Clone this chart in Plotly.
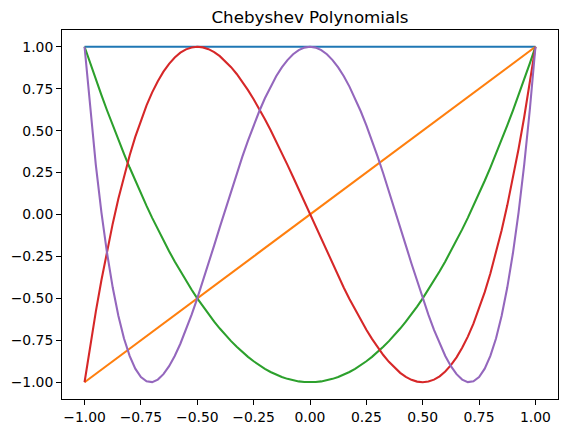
import plotly.graph_objects as go

x = [-1.0, -0.975, -0.95, -0.925, -0.9, -0.875, -0.85, -0.825, -0.8, -0.775,
     -0.75, -0.725, -0.7, -0.675, -0.65, -0.625, -0.6, -0.575, -0.55, -0.525,
     -0.5, -0.475, -0.45, -0.425, -0.4, -0.375, -0.35, -0.325, -0.3, -0.275,
     -0.25, -0.225, -0.2, -0.175, -0.15, -0.125, -0.1, -0.075, -0.05, -0.025,
     0.0,
     0.025, 0.05, 0.075, 0.1, 0.125, 0.15, 0.175, 0.2, 0.225, 0.25,
     0.275, 0.3, 0.325, 0.35, 0.375, 0.4, 0.425, 0.45, 0.475, 0.5,
     0.525, 0.55, 0.575, 0.6, 0.625, 0.65, 0.675, 0.7, 0.725, 0.75,
     0.775, 0.8, 0.825, 0.85, 0.875, 0.9, 0.925, 0.95, 0.975, 1.0]

T0 = [1.0] * 81

T1 = [-1.0, -0.975, -0.95, -0.925, -0.9, -0.875, -0.85, -0.825, -0.8, -0.775,
      -0.75, -0.725, -0.7, -0.675, -0.65, -0.625, -0.6, -0.575, -0.55, -0.525,
      -0.5, -0.475, -0.45, -0.425, -0.4, -0.375, -0.35, -0.325, -0.3, -0.275,
      -0.25, -0.225, -0.2, -0.175, -0.15, -0.125, -0.1, -0.075, -0.05, -0.025,
      0.0,
      0.025, 0.05, 0.075, 0.1, 0.125, 0.15, 0.175, 0.2, 0.225, 0.25,
      0.275, 0.3, 0.325, 0.35, 0.375, 0.4, 0.425, 0.45, 0.475, 0.5,
      0.525, 0.55, 0.575, 0.6, 0.625, 0.65, 0.675, 0.7, 0.725, 0.75,
      0.775, 0.8, 0.825, 0.85, 0.875, 0.9, 0.925, 0.95, 0.975, 1.0]

T2 = [1.0, 0.90125, 0.805, 0.71125, 0.62, 0.53125, 0.445, 0.36125, 0.28, 0.20125,
      0.125, 0.05125, -0.02, -0.08875, -0.155, -0.21875, -0.28, -0.33875, -0.395, -0.44875,
      -0.5, -0.54875, -0.595, -0.63875, -0.68, -0.71875, -0.755, -0.78875, -0.82, -0.84875,
      -0.875, -0.89875, -0.92, -0.93875, -0.955, -0.96875, -0.98, -0.98875, -0.995, -0.99875,
      -1.0,
      -0.99875, -0.995, -0.98875, -0.98, -0.96875, -0.955, -0.93875, -0.92, -0.89875, -0.875,
      -0.84875, -0.82, -0.78875, -0.755, -0.71875, -0.68, -0.63875, -0.595, -0.54875, -0.5,
      -0.44875, -0.395, -0.33875, -0.28, -0.21875, -0.155, -0.08875, -0.02, 0.05125, 0.125,
      0.20125, 0.28, 0.36125, 0.445, 0.53125, 0.62, 0.71125, 0.805, 0.90125, 1.0]

T3 = [-1.0, -0.78244, -0.5795, -0.39081, -0.216, -0.05469, 0.0935, 0.22894, 0.352, 0.46306,
      0.5625, 0.65069, 0.728, 0.79481, 0.8515, 0.89844, 0.936, 0.96456, 0.9845, 0.99619,
      1.0, 0.99631, 0.9855, 0.96794, 0.944, 0.91406, 0.8785, 0.83769, 0.792, 0.74181,
      0.6875, 0.62944, 0.568, 0.50356, 0.4365, 0.36719, 0.296, 0.22331, 0.1495, 0.07494,
      0.0,
      -0.07494, -0.1495, -0.22331, -0.296, -0.36719, -0.4365, -0.50356, -0.568, -0.62944, -0.6875,
      -0.74181, -0.792, -0.83769, -0.8785, -0.91406, -0.944, -0.96794, -0.9855, -0.99631, -1.0,
      -0.99619, -0.9845, -0.96456, -0.936, -0.89844, -0.8515, -0.79481, -0.728, -0.65069, -0.5625,
      -0.46306, -0.352, -0.22894, -0.0935, 0.05469, 0.216, 0.39081, 0.5795, 0.78244, 1.0]

T4 = [1.0, 0.6245, 0.29605, 0.01175, -0.2312, -0.43555, -0.60395, -0.739, -0.8432, -0.919,
      -0.96875, -0.99475, -0.9992, -0.98425, -0.95195, -0.9043, -0.8432, -0.7705, -0.68795, -0.59725,
      -0.5, -0.39775, -0.29195, -0.184, -0.0752, 0.0332, 0.14005, 0.24425, 0.3448, 0.44075,
      0.53125, 0.6155, 0.6928, 0.7625, 0.82405, 0.87695, 0.9208, 0.95525, 0.98005, 0.995,
      1.0,
      0.995, 0.98005, 0.95525, 0.9208, 0.87695, 0.82405, 0.7625, 0.6928, 0.6155, 0.53125,
      0.44075, 0.3448, 0.24425, 0.14005, 0.0332, -0.0752, -0.184, -0.29195, -0.39775, -0.5,
      -0.59725, -0.68795, -0.7705, -0.8432, -0.9043, -0.95195, -0.98425, -0.9992, -0.99475, -0.96875,
      -0.919, -0.8432, -0.739, -0.60395, -0.43555, -0.2312, 0.01175, 0.29605, 0.6245, 1.0]

series = [T0, T1, T2, T3, T4]
colors = ["#1f77b4", "#ff7f0e", "#2ca02c", "#d62728", "#9467bd"]
names = ["T0", "T1", "T2", "T3", "T4"]

tickvals = [-1.0, -0.75, -0.5, -0.25, 0.0, 0.25, 0.5, 0.75, 1.0]
ticklabels = ["\u22121.00", "\u22120.75", "\u22120.50", "\u22120.25", "0.00",
              "0.25", "0.50", "0.75", "1.00"]

fig = go.Figure()
for ys, c, n in zip(series, colors, names):
    fig.add_trace(go.Scatter(x=x, y=ys, mode="lines", name=n,
                             line=dict(color=c, width=2.08)))

axis_common = dict(
    showgrid=False, zeroline=False, showline=True, mirror=True,
    linecolor="black", linewidth=1.1, ticks="outside", ticklen=4.9,
    tickwidth=1.1, tickcolor="black", automargin=False,
    tickfont=dict(family="DejaVu Sans", size=13.9, color="black"),
    range=[-1.1, 1.1], tickvals=tickvals, ticktext=ticklabels,
)

fig.update_layout(
    width=568, height=433,
    margin=dict(l=62, r=10, t=30, b=34, autoexpand=False),
    paper_bgcolor="white", plot_bgcolor="white",
    showlegend=False,
    title=dict(text="Chebyshev Polynomials", x=0.5, xref="paper", xanchor="center",
               y=1 - 17 / 433, yanchor="middle",
               font=dict(family="DejaVu Sans", size=16.7, color="black")),
    xaxis=axis_common,
    yaxis=axis_common,
)

fig.write_html("out.html",
               config={"displayModeBar": False},
               post_script="document.body.style.margin='0';document.body.style.overflow='hidden';")
